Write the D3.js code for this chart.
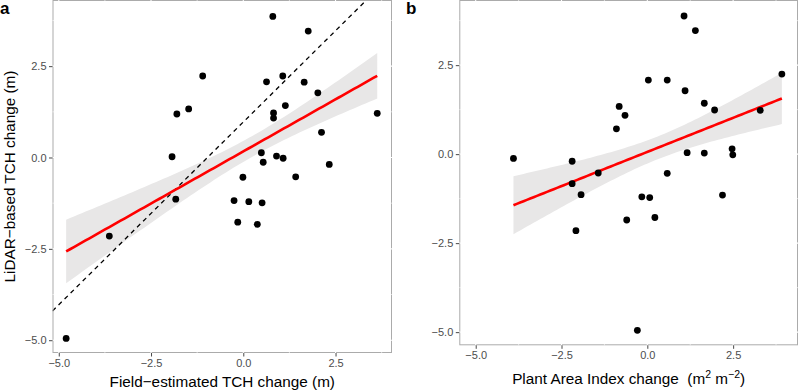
<!DOCTYPE html>
<html><head><meta charset="utf-8">
<script src="https://cdn.jsdelivr.net/npm/d3@7"></script>
<style>body{margin:0;background:#fff}svg{display:block}text{font-family:"Liberation Sans",Arial,Helvetica,sans-serif}</style>
</head><body><svg id="c" width="800" height="392"></svg>
<script>
// Panel a: field-estimated TCH change vs LiDAR-based TCH change
const fieldTCH = [-4.80,-3.63,-1.83,-1.93,-1.80,-1.48,-1.10,0.80,1.76,0.63,1.07,1.65,2.02,1.14,0.82,0.82,3.63,2.12,0.49,0.54,0.90,1.08,2.33,-0.01,1.42,-0.25,0.15,0.51,-0.15,0.38];
const lidarA   = [-4.95,-2.15,-1.14,0.02,1.19,1.33,2.23,3.86,3.46,2.07,2.23,2.06,1.77,1.42,1.22,1.08,1.21,0.69,0.13,-0.13,0.04,-0.02,-0.19,-0.54,-0.53,-1.18,-1.21,-1.24,-1.77,-1.83];
// Panel b: plant area index change vs LiDAR-based TCH change
const paiChange = [-3.90,-2.19,-2.19,-1.93,-2.08,-1.43,-0.82,-0.65,-0.90,0.03,0.58,1.07,1.40,1.10,1.66,1.96,3.29,3.92,1.16,1.66,2.47,2.49,0.58,2.19,-0.16,0.07,-0.60,0.22,-0.29];
const lidarB    = [-0.12,-0.20,-0.83,-1.14,-2.15,-0.53,1.34,1.09,0.71,2.08,2.08,3.88,3.47,1.78,1.43,1.24,1.23,2.25,0.04,0.03,0.15,-0.02,-0.54,-1.15,-1.20,-1.22,-1.85,-1.78,-4.95];
const tickVals = [-5.0,-2.5,0.0,2.5];
const minorVals = [-3.75,-1.25,1.25,3.75];
const refIntercept = 0.97, refSlope = 1.0; // dashed reference line in panel a
const bandMult = 1.0; // half-width of the grey band, in standard errors

const svg = d3.select("#c");
const fmt = d3.format(".1f");
const minus = s => s.replace("-", "\u2212");

function fit(xs, ys){
  const n=xs.length, mx=d3.mean(xs), my=d3.mean(ys);
  let sxx=0,sxy=0; xs.forEach((x,i)=>{sxx+=(x-mx)**2;sxy+=(x-mx)*(ys[i]-my);});
  const b=sxy/sxx, a=my-b*mx;
  let sse=0; xs.forEach((x,i)=>{sse+=(ys[i]-a-b*x)**2;});
  const s=Math.sqrt(sse/(n-2));
  const x0=d3.min(xs), x1=d3.max(xs);
  return d3.range(0,81).map(k=>{const x=x0+(x1-x0)*k/80;const y=a+b*x;const se=s*Math.sqrt(1/n+(x-mx)**2/sxx);return {x,y,lo:y-bandMult*se,hi:y+bandMult*se};});
}

function panel(o){
  const g = svg.append("g");
  const x = d3.scaleLinear().domain(o.xdom).range([o.L,o.R]);
  const y = d3.scaleLinear().domain(o.ydom).range([o.B,o.T]);
  g.append("rect").attr("x",o.L).attr("y",o.T).attr("width",o.R-o.L).attr("height",o.B-o.T).attr("fill","#fff");
  const clipId = "clip"+o.id;
  svg.append("clipPath").attr("id",clipId).append("rect").attr("x",o.L).attr("y",o.T).attr("width",o.R-o.L).attr("height",o.B-o.T);
  const inner = g.append("g").attr("clip-path",`url(#${clipId})`);
  const pts = fit(o.xs,o.ys);
  inner.append("path").datum(pts).attr("fill","#e8e7e7")
    .attr("d",d3.area().x(d=>x(d.x)).y0(d=>y(d.lo)).y1(d=>y(d.hi)));
  if(o.ref){
    inner.append("line").attr("x1",x(o.xdom[0])).attr("y1",y(refIntercept+refSlope*o.xdom[0]))
      .attr("x2",x(o.xdom[1])).attr("y2",y(refIntercept+refSlope*o.xdom[1]))
      .attr("stroke","#000").attr("stroke-width",1.3).attr("stroke-dasharray","4.5,4");
  }
  inner.append("path").datum(pts).attr("fill","none").attr("stroke","#ff0000").attr("stroke-width",2.6)
    .attr("d",d3.line().x(d=>x(d.x)).y(d=>y(d.y)));
  inner.selectAll("circle").data(o.xs.map((v,i)=>[v,o.ys[i]])).join("circle")
    .attr("cx",d=>x(d[0])).attr("cy",d=>y(d[1])).attr("r",3.4).attr("fill","#000");
  // border
  g.append("rect").attr("x",o.L+0.5).attr("y",o.T+0.5).attr("width",o.R-o.L-1).attr("height",o.B-o.T-1)
    .attr("fill","none").attr("stroke","#ababab").attr("stroke-width",1);
  // white gridline gaps where grid meets the border
  const gv = tickVals.concat(minorVals);
  const cut = (x1,y1,x2,y2,w)=>g.append("line").attr("x1",x1).attr("y1",y1).attr("x2",x2).attr("y2",y2).attr("stroke","#fff").attr("stroke-width",w);
  gv.filter(v=>v>o.xdom[0]&&v<o.xdom[1]).forEach(v=>{
    const w=v%2.5===0?1.1:0.6;
    cut(x(v),o.T,x(v),o.T+1.5,w); cut(x(v),o.B-1.5,x(v),o.B,w);
  });
  gv.filter(v=>v>o.ydom[0]&&v<o.ydom[1]).forEach(v=>{
    const w=v%2.5===0?1.1:0.6;
    cut(o.L,y(v),o.L+1.5,y(v),w); cut(o.R-1.5,y(v),o.R,y(v),w);
  });
  // axes
  const xa = d3.axisBottom(x).tickValues(tickVals).tickSize(3.5).tickPadding(2.5).tickFormat(d=>minus(fmt(d)));
  const ya = d3.axisLeft(y).tickValues(tickVals).tickSize(3.5).tickPadding(2.5).tickFormat(d=>minus(fmt(d)));
  const gx = g.append("g").attr("transform",`translate(0,${o.B})`).call(xa);
  const gy = g.append("g").attr("transform",`translate(${o.L},0)`).call(ya);
  [gx,gy].forEach(a=>{a.select(".domain").remove();a.selectAll("line").attr("stroke","#333").attr("stroke-width",0.9);
    a.selectAll("text").attr("fill","#4d4d4d").style("font-size","11px");});
  g.append("text").attr("x",o.letterX).attr("y",14).attr("font-weight","bold").style("font-size","17px").text(o.letter);
  return {g,x,y};
}

const pa = panel({id:"a",L:52.5,R:392,T:0,B:353,xdom:[-5.17,4.03],ydom:[-5.35,4.31],xs:fieldTCH,ys:lidarA,ref:true,letter:"a",letterX:0});
pa.g.append("text").attr("x",(52.5+392)/2).attr("y",387).attr("text-anchor","middle").style("font-size","15.3px").attr("fill","#000").text("Field\u2212estimated TCH change (m)");
pa.g.append("text").attr("transform",`translate(14.5,${353/2}) rotate(-90)`).attr("text-anchor","middle").style("font-size","15.3px").attr("fill","#000").text("LiDAR\u2212based TCH change (m)");

const pb = panel({id:"b",L:459.3,R:798,T:0,B:345.3,xdom:[-5.478,4.39],ydom:[-5.37,4.33],xs:paiChange,ys:lidarB,ref:false,letter:"b",letterX:406});
const tb = pb.g.append("text").attr("x",(459.3+798)/2).attr("y",384).attr("text-anchor","middle").style("font-size","15.3px").attr("fill","#000").attr("xml:space","preserve");
tb.append("tspan").text("Plant Area Index change  (m");
tb.append("tspan").attr("dy",-6).style("font-size","10.5px").text("2");
tb.append("tspan").attr("dy",6).text(" m");
tb.append("tspan").attr("dy",-6).style("font-size","10.5px").text("\u22122");
tb.append("tspan").attr("dy",6).text(")");
</script></body></html>
